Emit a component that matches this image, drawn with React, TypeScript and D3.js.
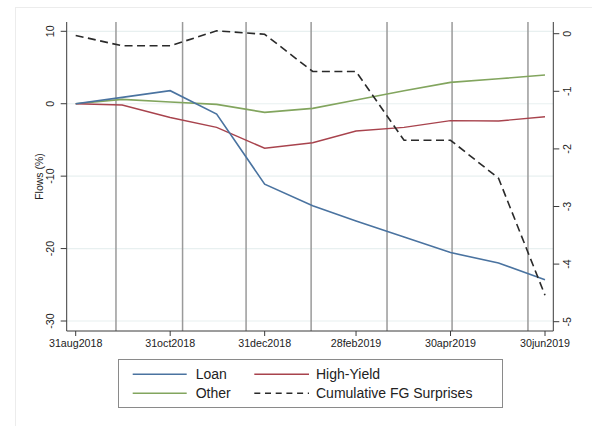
import React from "react";
import * as d3 from "d3";

const dates = ["2018-08-31","2018-09-30","2018-10-31","2018-11-30","2018-12-31","2019-01-31","2019-02-28","2019-03-31","2019-04-30","2019-05-31","2019-06-30"];
const loan = [0, 0.88, 1.8, -1.42, -11.1, -14.1, -16.2, -18.4, -20.55, -22.0, -24.3];
const highYield = [0, -0.18, -1.9, -3.26, -6.15, -5.38, -3.77, -3.26, -2.34, -2.39, -1.79];
const other = [0, 0.6, 0.23, -0.09, -1.19, -0.64, 0.51, 1.79, 2.95, 3.45, 3.96];
const fgSurprises = [-0.03, -0.21, -0.21, 0.05, -0.01, -0.655, -0.655, -1.85, -1.85, -2.51, -4.54];
const fomcDates = ["2018-09-26","2018-11-08","2018-12-19","2019-01-30","2019-03-20","2019-05-01","2019-06-19"];
const xTicks = ["2018-08-31","2018-10-31","2018-12-31","2019-02-28","2019-04-30","2019-06-30"];
const xTickLabels = ["31aug2018","31oct2018","31dec2018","28feb2019","30apr2019","30jun2019"];
const leftTicks = [10, 0, -10, -20, -30];
const rightTicks = [0, -1, -2, -3, -4, -5];

const parse = (s: string) => new Date(s + "T00:00:00Z");

const C_LOAN = "#4a73a0";
const C_HY = "#a8434d";
const C_OTHER = "#82a55e";
const C_FG = "#2a2a2a";
const FONT = "'Liberation Sans', Arial, Helvetica, sans-serif";

export default function App() {
  const W = 592, H = 426;
  const plotL = 66.7, plotR = 553.3, plotT = 22, plotB = 331;
  const x = d3.scaleUtc().domain([parse(dates[0]), parse(dates[dates.length - 1])]).range([75.7, 545]);
  const yL = d3.scaleLinear().domain([-30, 10]).range([321, 31.3]);
  const yR = d3.scaleLinear().domain([-5, 0]).range([321.7, 33.7]);

  const mk = (vals: number[], y: d3.ScaleLinear<number, number>) =>
    d3.line<number>().x((_, i) => x(parse(dates[i]))).y((v) => y(v))(vals) || "";

  const axisColor = "#3a3a3a";

  return (
    <svg width={W} height={H} style={{ position: "absolute", left: 0, top: 0, background: "#fff" }}>
      <rect x={15.5} y={7.5} width={620} height={500} fill="none" stroke="#ececec" strokeWidth={1} />
      {/* horizontal grid */}
      {leftTicks.map((t) => (
        <line key={"g" + t} x1={plotL} x2={plotR} y1={yL(t)} y2={yL(t)} stroke="#e8f0f0" strokeWidth={1.2} />
      ))}
      {/* FOMC vertical lines */}
      {fomcDates.map((d) => (
        <line key={d} x1={x(parse(d))} x2={x(parse(d))} y1={plotT} y2={plotB} stroke="#9a9a9a" strokeWidth={1.5} />
      ))}
      {/* data lines */}
      <path d={mk(other, yL)} fill="none" stroke={C_OTHER} strokeWidth={1.6} />
      <path d={mk(highYield, yL)} fill="none" stroke={C_HY} strokeWidth={1.4} />
      <path d={mk(loan, yL)} fill="none" stroke={C_LOAN} strokeWidth={1.6} />
      <path d={mk(fgSurprises, yR)} fill="none" stroke={C_FG} strokeWidth={1.6} strokeDasharray="8,4.5" />

      {/* left axis */}
      <line x1={plotL} x2={plotL} y1={plotT} y2={plotB} stroke={axisColor} strokeWidth={1} />
      {leftTicks.map((t) => (
        <g key={"l" + t}>
          <line x1={plotL - 6} x2={plotL} y1={yL(t)} y2={yL(t)} stroke={axisColor} strokeWidth={1} />
          <text transform={`translate(${54},${yL(t)}) rotate(-90)`} textAnchor="middle" fontFamily={FONT} fontSize={10.7} fill="#222">{t}</text>
        </g>
      ))}
      <text transform={`translate(${43},${176.5}) rotate(-90)`} textAnchor="middle" fontFamily={FONT} fontSize={10.5} fill="#222">Flows (%)</text>

      {/* right axis */}
      <line x1={plotR} x2={plotR} y1={plotT} y2={plotB} stroke={axisColor} strokeWidth={1} />
      {rightTicks.map((t) => (
        <g key={"r" + t}>
          <line x1={plotR} x2={plotR + 6} y1={yR(t)} y2={yR(t)} stroke={axisColor} strokeWidth={1} />
          <text transform={`translate(${571},${yR(t)}) rotate(-90)`} textAnchor="middle" fontFamily={FONT} fontSize={10.7} fill="#222">{t}</text>
        </g>
      ))}

      {/* x axis */}
      <line x1={plotL} x2={plotR} y1={plotB} y2={plotB} stroke={axisColor} strokeWidth={1} />
      {xTicks.map((d, i) => (
        <g key={"x" + d}>
          <line x1={x(parse(d))} x2={x(parse(d))} y1={plotB} y2={plotB + 5} stroke={axisColor} strokeWidth={1} />
          <text x={x(parse(d))} y={plotB + 16} textAnchor="middle" fontFamily={FONT} fontSize={10.7} fill="#222">{xTickLabels[i]}</text>
        </g>
      ))}

      {/* legend */}
      <rect x={118.5} y={359.5} width={384} height={48} fill="#fff" stroke="#8a8a8a" strokeWidth={1} />
      <line x1={132.7} x2={186.7} y1={374.3} y2={374.3} stroke={C_LOAN} strokeWidth={1.6} />
      <text x={195.7} y={379} fontFamily={FONT} fontSize={14} fill="#222">Loan</text>
      <line x1={254.3} x2={309} y1={374.3} y2={374.3} stroke={C_HY} strokeWidth={1.5} />
      <text x={316} y={379} fontFamily={FONT} fontSize={14} fill="#222">High-Yield</text>
      <line x1={132.7} x2={186.7} y1={393.3} y2={393.3} stroke={C_OTHER} strokeWidth={1.6} />
      <text x={195.7} y={398} fontFamily={FONT} fontSize={14} fill="#222">Other</text>
      <line x1={254.3} x2={309} y1={393.3} y2={393.3} stroke={C_FG} strokeWidth={1.6} strokeDasharray="6,4.7" />
      <text x={316} y={398} fontFamily={FONT} fontSize={14} fill="#222">Cumulative FG Surprises</text>
    </svg>
  );
}
